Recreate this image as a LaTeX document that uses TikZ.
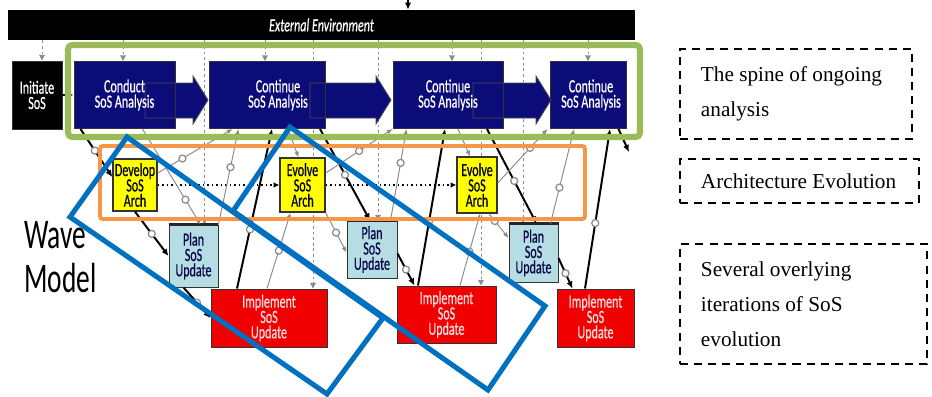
\documentclass[tikz,border=0pt]{standalone}
\usepackage{fontspec}
\setmainfont{Liberation Serif}
\newfontfamily\cfont[FakeStretch=0.65, FakeBold=0.6]{Carlito}
\newfontfamily\wfont[FakeStretch=0.65]{Carlito}
\usetikzlibrary{arrows.meta,calc}
\definecolor{navy}{RGB}{12,12,120}
\definecolor{archyellow}{RGB}{255,255,0}
\definecolor{planblue}{RGB}{183,221,228}
\definecolor{implred}{RGB}{240,0,0}
\definecolor{impltext}{RGB}{255,222,222}
\definecolor{spinegreen}{RGB}{155,187,89}
\definecolor{archorange}{RGB}{247,150,70}
\definecolor{iterblue}{RGB}{0,112,192}
\definecolor{infogray}{RGB}{140,140,140}
\newdimen\px \px=0.025cm
\pgfdeclarelayer{back}
\pgfdeclarelayer{mid}
\pgfsetlayers{back,mid,main}
\tikzset{
  box/.style={draw=black!80, line width=0.7pt, inner sep=0pt},
  analysis/.style={box, text=white, minimum height=67\px},
  arch/.style={box, fill=archyellow, line width=1pt, text=black},
  plan/.style={box, fill=planblue, text=navy!60!black},
  impl/.style={box, fill=implred, text=impltext},
  boxtext/.style={font={\cfont\fontsize{13.2}{10.9}\selectfont}, align=center, inner sep=0pt},
  flow/.style={line width=1.4pt, -{Latex[length=5pt,width=4.5pt]}},
  info/.style={draw=infogray, line width=0.7pt, -{Latex[length=4pt,width=3.5pt]}},
  envline/.style={draw=infogray, line width=0.7pt, dash pattern=on 2pt off 2pt, -{Triangle[length=4pt,width=4pt]}},
  ring/.style={circle, draw=infogray, fill=white, line width=0.9pt, inner sep=0pt, minimum size=5pt},
  note/.style={draw, line width=1.4pt, dash pattern=on 5.7pt off 4.3pt, inner xsep=21\px, inner ysep=0pt,
    anchor=north west, align=flush left, font={\fontsize{15.1}{24.9}\selectfont}},
}
\begin{document}
\begin{tikzpicture}[x=0.025cm, y=-0.025cm]
\useasboundingbox (0,0) rectangle (932,396);

% environment
\node[fill=black, minimum width=627\px, minimum height=30\px, inner sep=0pt, text=white,
  font={\cfont\fontsize{13.2}{10.9}\selectfont\itshape}] (env) at (321.5,25) {External Environment};
\coordinate (top) at (408,0);
\draw[flow] (top) -- (top |- env.north);

% boxes
\node[box, fill=black, text=white, boxtext, minimum width=50\px, minimum height=68\px] (init) at (37,95) {Initiate\\SoS};
\node[analysis, boxtext, minimum width=101\px] (ca0) at (124.5,95) {Conduct\\SoS Analysis};
\node[analysis, boxtext, minimum width=116\px] (ca1) at (267,95) {\hspace*{22\px}Continue\\\hspace*{22\px}SoS Analysis};
\node[analysis, boxtext, minimum width=110\px] (ca2) at (448,95) {Continue\\SoS Analysis};
\node[analysis, boxtext, minimum width=76\px] (ca3) at (588,95) {\hspace*{6\px}Continue\\\hspace*{6\px}SoS Analysis};
\node[arch, boxtext, minimum width=44\px, minimum height=52\px] (arch0) at (135,185) {Develop\\SoS\\Arch};
\node[arch, boxtext, minimum width=45\px, minimum height=54\px] (arch1) at (302.5,185) {Evolve\\SoS\\Arch};
\node[arch, boxtext, minimum width=40\px, minimum height=56\px] (arch2) at (477,185) {Evolve\\SoS\\Arch};
\node[plan, boxtext, minimum width=49\px, minimum height=62\px] (plan1) at (193.5,256) {Plan\\SoS\\Update};
\node[plan, boxtext, minimum width=50\px, minimum height=57\px] (plan2) at (372,249.5) {Plan\\SoS\\Update};
\node[plan, boxtext, minimum width=49\px, minimum height=58\px] (plan3) at (533.5,253) {Plan\\SoS\\Update};
\node[impl, boxtext, minimum width=116\px, minimum height=58\px] (impl1) at (269,318) {Implement\\SoS\\Update};
\node[impl, boxtext, minimum width=99\px, minimum height=57\px] (impl2) at (446.5,314.5) {Implement\\SoS\\Update};
\node[impl, boxtext, minimum width=77\px, minimum height=58\px] (impl3) at (595.5,318) {Implement\\SoS\\Update};
\foreach \n in {plan1, plan2, plan3}
    \draw[line width=1.5pt, black!85] (\n.north west) -- (\n.north east);

% spine fills and arrows
\begin{pgfonlayer}{mid}
\foreach \n in {ca0, ca1, ca2, ca3}
    \fill[navy] (\n.south west) rectangle (\n.north east);
\foreach \xa/\xb in {145/208, 310/391, 473/551}
    \draw[fill=navy, draw=black!70, line width=0.6pt]
        (\xa,83) -- ({\xb-15},83) -- ({\xb-15},76) -- (\xb,100) -- ({\xb-15},124) -- ({\xb-15},118) -- (\xa,118) -- cycle;
\end{pgfonlayer}

% from the environment
\begin{pgfonlayer}{back}
\foreach \n/\dx in {init/5, ca0/-1.5, plan1/11, ca1/-2, impl1/44, plan2/6, ca2/4, impl2/34.5, plan3/-10.5, ca3/0} {
    \path ($(\n.north)+(\dx,0)$) coordinate (t);
    \draw[envline] (env.south -| t) -- (t);
}
\end{pgfonlayer}

% main flow
\draw[flow] (init) -- (ca0);
\draw[flow] ($(ca0.south)+(-44,0)$) -- node[ring, pos=.45] (r1) {} ($(arch0.west)+(0,-8)$);
\draw[flow] (arch0.south) -- node[ring] (r2) {} (plan1.west);
\draw[flow] ($(plan1.south)+(-10,0)$) -- node[ring] (r3) {} (impl1.west);
\draw[flow] ($(impl1.north)+(-32,0)$) -- node[ring, pos=.37] (r4) {} ($(ca1.south)+(5,0)$);
\draw[flow] ($(ca1.south)+(53,0)$) -- node[ring] (r5) {} ($(plan2.north)+(-2,0)$);
\draw[flow] ($(plan2.east)+(0,4)$) -- node[ring] (r6) {} ($(impl2.north west)+(18,0)$);
\draw[flow] ($(impl2.north)+(-28.5,0)$) -- node[ring, pos=.41] (r7) {} ($(ca2.south)+(-3,0)$);
\draw[flow] ($(ca2.south)+(39,0)$) -- node[ring, pos=.55] (r8) {} ($(plan3.north)+(3,0)$);
\draw[flow] ($(plan3.east)+(0,5)$) -- node[ring] (r9) {} ($(impl3.north west)+(16,0)$);
\draw[flow] ($(impl3.north)+(-10.5,0)$) -- node[ring, pos=.41] (r10) {} ($(ca3.south)+(22,0)$);
\coordinate (exit) at (629,152);
\draw[flow] ($(ca3.south east)+(-8,0)$) -- (exit);
\draw[line width=1.2pt, dotted, -{Latex[length=4pt,width=4pt]}] (arch0) -- (arch1);
\draw[line width=1.2pt, dotted, -{Latex[length=4pt,width=4pt]}] (arch1) -- (arch2);

% information flows
\draw[info] ($(arch0.east)+(0,-12)$) -- node[ring, pos=.33] (g1) {} ($(ca1.south west)+(24,0)$);
\draw[info] ($(ca0.south)+(18,0)$) -- node[ring, pos=.74] (g2) {} ($(plan1.north)+(7,0)$);
\draw[info] (plan1.north east) -- node[ring, pos=.6] (g3) {} ($(ca1.south west)+(30,0)$);
\draw[info] ($(impl1.north)+(-2,0)$) -- node[ring] (g4) {} ($(arch1.south)+(-12,0)$);
\draw[info] ($(ca1.south)+(21,0)$) -- ($(arch1.north)+(-4,0)$);
\draw[info] ($(arch1.east)+(0,-12)$) -- node[ring] (g5) {} (ca2.south west);
\draw[info] (arch1.south east) -- node[ring] (g6) {} ($(plan2.west)+(0,3)$);
\draw[info] ($(plan2.north east)+(-7,0)$) -- node[ring, pos=.63] (g7) {} ($(ca2.south west)+(14,0)$);
\draw[info] ($(impl2.north)+(13.5,0)$) -- node[ring, pos=.47] (g8) {} ($(arch2.south)+(3,0)$);
\draw[info] ($(ca2.south)+(10,0)$) -- ($(arch2.north)+(-7,0)$);
\draw[info] ($(arch2.east)+(0,-2)$) -- node[ring, pos=.65] (g9) {} ($(ca3.south west)+(-2,0)$);
\draw[info] ($(arch2.south)+(12,0)$) -- node[ring, pos=.3] (g10) {} ($(plan3.west)+(0,-15)$);
\draw[info] ($(plan3.north east)+(-8,0)$) -- node[ring, pos=.38] (g11) {} ($(ca3.south)+(-14,0)$);

% highlight frames
\draw[spinegreen, line width=4.3pt, rounded corners=3pt] (68,45) rectangle (640,137);
\draw[archorange, line width=2.8pt, rounded corners=2pt] (100,146) rectangle (585,219);
\draw[iterblue, line width=3.6pt] (127,137) -- (383,318) -- (327,394) -- (70,217) -- cycle;
\draw[iterblue, line width=3.6pt] (290,127) -- (545,306) -- (488,390) -- (233,211) -- cycle;

\node[font={\wfont\fontsize{30}{31}\selectfont}, align=left, anchor=west, inner sep=0pt] (wave) at (24,257) {Wave\\Model};

% notes
\node[note, minimum height=90\px, text width=4.75cm] (n1) at (679,48) {The spine of ongoing\\analysis};
\node[note, minimum height=44\px, text width=4.925cm] (n2) at (679,158) {Architecture Evolution};
\node[note, minimum height=120\px, text width=5.125cm] (n3) at (679,243) {Several overlying\\iterations of SoS\\evolution};
\end{tikzpicture}
\end{document}
